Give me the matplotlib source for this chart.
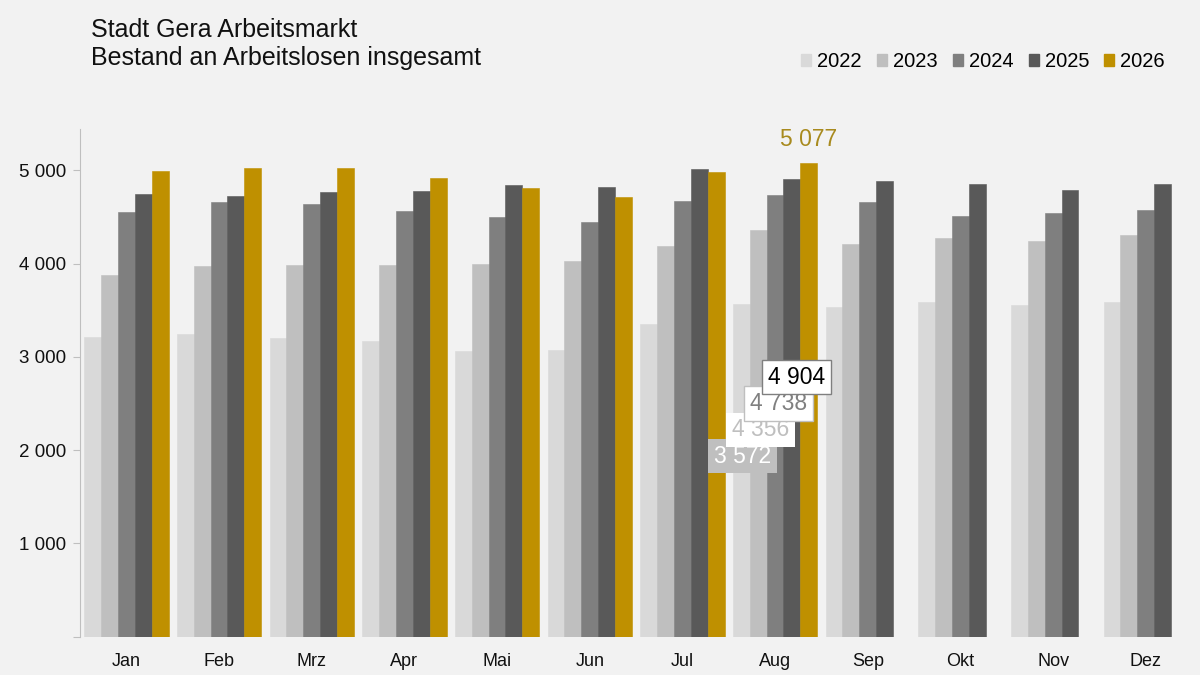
import matplotlib.pyplot as plt
import numpy as np
from matplotlib.patches import Patch

plt.rcParams['font.family'] = ['Liberation Sans', 'DejaVu Sans']

months = ['Jan', 'Feb', 'Mrz', 'Apr', 'Mai', 'Jun', 'Jul', 'Aug', 'Sep', 'Okt', 'Nov', 'Dez']
years = ['2022', '2023', '2024', '2025', '2026']

v2022 = [3213, 3242, 3207, 3170, 3064, 3075, 3357, 3572, 3536, 3589, 3553, 3589]
v2023 = [3882, 3978, 3989, 3989, 3996, 4032, 4185, 4356, 4210, 4271, 4239, 4303]
v2024 = [4553, 4664, 4639, 4564, 4500, 4446, 4675, 4738, 4660, 4507, 4546, 4571]
v2025 = [4750, 4728, 4772, 4782, 4846, 4825, 5014, 4904, 4889, 4853, 4793, 4853]
v2026 = [4989, 5021, 5029, 4922, 4807, 4711, 4986, 5077]

series = [v2022, v2023, v2024, v2025, v2026]
colors = ['#d9d9d9', '#bfbfbf', '#7f7f7f', '#595959', '#bf9000']

bg = '#f2f2f2'
fig = plt.figure(figsize=(12, 6.75), dpi=100, facecolor=bg)
ax = fig.add_axes([0.0667, 0.0567, 0.9267, 0.7524], facecolor=bg)

x = np.arange(len(months))
w = 0.182
for i, (vals, c) in enumerate(zip(series, colors)):
    xs = x[:len(vals)] + (i - 2) * w
    ax.bar(xs, vals, width=w, color=c, edgecolor=c, linewidth=0.4)

ax.set_xlim(-0.5, 11.5)
ax.set_ylim(0, 5445)
ax.set_yticks(range(0, 6000, 1000))
ax.set_yticklabels([''] + [f'{v:,}'.replace(',', ' ') for v in range(1000, 6000, 1000)])
ax.set_xticks(x)
ax.set_xticklabels(months)
ax.tick_params(axis='y', length=5, width=0.8, color='#bfbfbf', pad=5, labelsize=13.5, labelcolor='#111111')
ax.tick_params(axis='x', length=0, pad=12, labelsize=13, labelcolor='#111111')
for s in ['top', 'right', 'bottom']:
    ax.spines[s].set_visible(False)
ax.spines['left'].set_color('#bfbfbf')
ax.spines['left'].set_linewidth(0.8)

# Werte August (aktueller Monat)
m = 7
ax.annotate(f'{v2026[m]:,}'.replace(',', ' '), xy=(m + 2 * w, v2026[m]),
            xytext=(0, 9), textcoords='offset points', ha='center', va='bottom',
            fontsize=16.5, color='#a88a1e')

box_styles = [
    ('white', '#bfbfbf', 'none'),
    ('#bfbfbf', 'white', 'none'),
    ('#808080', 'white', '#bfbfbf'),
    ('black', 'white', '#7f7f7f'),
]
for i, (tc, fc, ec) in enumerate(box_styles):
    val = series[i][m]
    ax.text(m + (i - 2) * w + 0.012 * (i + 1), 1935 + i * 283,
            f'{val:,}'.replace(',', ' '), ha='center', va='center',
            fontsize=16.5, color=tc, zorder=5 + i,
            bbox=dict(boxstyle='square,pad=0.25', fc=fc, ec=ec, lw=1))

fig.text(91 / 1200, 1 - 36.7 / 675, 'Stadt Gera Arbeitsmarkt', fontsize=18,
         va='baseline', color='#111111')
fig.text(91 / 1200, 1 - 65 / 675, 'Bestand an Arbeitslosen insgesamt', fontsize=18,
         va='baseline', color='#111111')

handles = [Patch(facecolor=c, edgecolor=c) for c in colors]
fig.legend(handles, years, loc='center right', bbox_to_anchor=(1165 / 1200, 1 - 61.7 / 675),
           ncol=5, frameon=False, fontsize=14.5, handlelength=0.5, handleheight=0.5,
           handletextpad=0.3, columnspacing=0.75, borderpad=0, borderaxespad=0)

fig.savefig('out.png', dpi=100, facecolor=bg)
